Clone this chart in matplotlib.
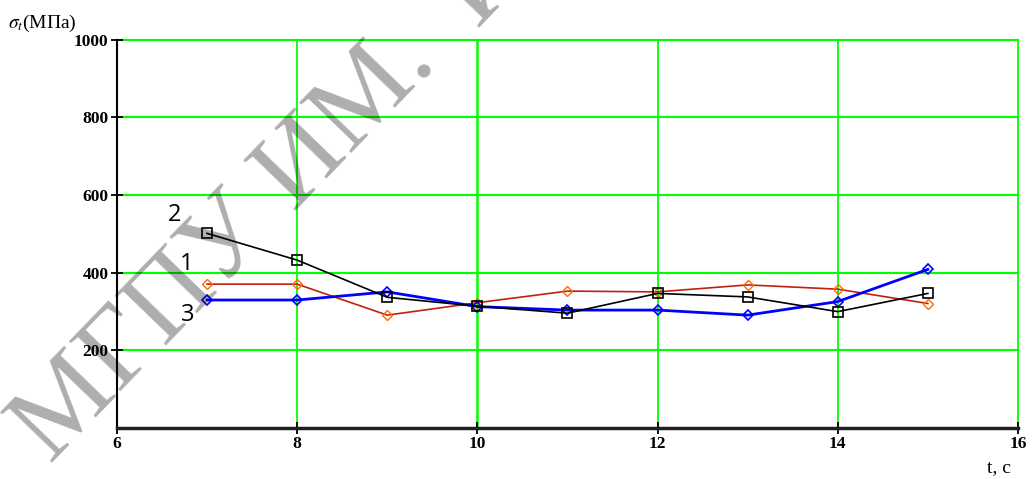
import matplotlib
matplotlib.use('Agg')
import matplotlib.pyplot as plt

# time, s
t = [7, 8, 9, 10, 11, 12, 13, 14, 15]

# sigma_t, MPa for the three curves
sigma_1 = [370, 370, 290, 322, 352, 350, 368, 357, 320]
sigma_2 = [501, 432, 336, 313, 295, 346, 337, 299, 346]
sigma_3 = [329, 329, 350, 312, 303, 303, 290, 325, 408]

x_ticks = [6, 8, 10, 12, 14, 16]
y_ticks = [200, 400, 600, 800, 1000]

curve_labels = ['1', '2', '3']
label_pos = [(6.77, 422), (6.64, 548), (6.78, 290)]

plt.rcParams['mathtext.fontset'] = 'stix'

fig = plt.figure(figsize=(10.35, 4.79), dpi=100)
ax = fig.add_axes([0.113, 0.1075, 0.8705, 0.809])

ax.set_xlim(6, 16)
ax.set_ylim(0, 1000)

# green grid
for xv in x_ticks[1:]:
    ax.axvline(xv, color='#00ff00', lw=1.8 if xv == 10 else 1.3, zorder=1, clip_on=False)
for yv in y_ticks:
    ax.axhline(yv, color='#00ff00', lw=1.5, zorder=1, clip_on=False)

ax.plot(t, sigma_1, color='#c02010', lw=1.2, marker='D', ms=5.5, mfc='none',
        mec='#ff6a00', mew=1.0, zorder=3)
ax.plot(t, sigma_2, color='black', lw=1.2, marker='s', ms=7, mfc='none',
        mec='black', mew=1.2, zorder=4)
ax.plot(t, sigma_3, color='#0000ff', lw=2.0, marker='D', ms=5.5, mfc='none',
        mec='#0000ff', mew=1.2, zorder=3)

for lab, (lx, ly) in zip(curve_labels, label_pos):
    ax.text(lx, ly, lab, fontsize=17, family='Open Sans', ha='center', va='center',
            color='black', zorder=5)

for side in ['top', 'right']:
    ax.spines[side].set_visible(False)
ax.spines['left'].set_linewidth(1.5)
ax.spines['bottom'].set_linewidth(2.5)
ax.spines['bottom'].set_color('#202020')

ax.set_xticks(x_ticks)
ax.set_yticks(y_ticks)
ax.tick_params(direction='inout', length=8, width=1.3, colors='black',
               labelsize=12.5, pad=2)
for lbl in ax.get_xticklabels() + ax.get_yticklabels():
    lbl.set_family('Liberation Serif')
    lbl.set_fontweight('bold')

fig.text(0.008, 1 - 28 / 479, r'$\sigma_t$(МПа)', fontsize=14,
         family='Liberation Serif', ha='left', va='baseline')
fig.text(0.965, 1 - 472 / 479, 't, c', fontsize=14,
         family='Liberation Serif', ha='center', va='baseline')

# diagonal watermark
wm = dict(fontsize=80, family='Liberation Serif', color='black', alpha=0.32,
          rotation=46, rotation_mode='anchor', va='baseline', zorder=10)
fig.text(438 / 1035, 1 - 64 / 479, 'МГПУ ИМ.', ha='right', **wm)
fig.text(478 / 1035, 1 - 30 / 479, 'И.П. ШАМЯКИНА', ha='left', **wm)

fig.savefig('out.png', dpi=100)
